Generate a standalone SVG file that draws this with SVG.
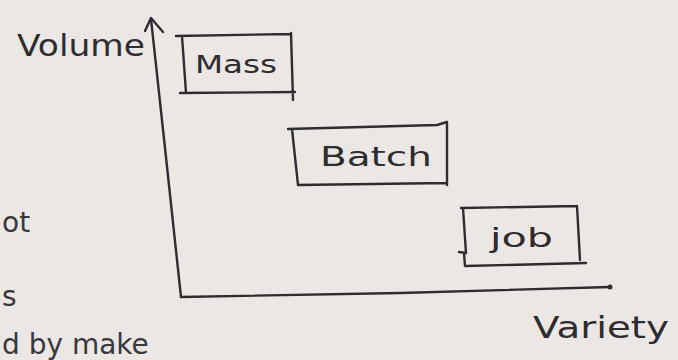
<svg xmlns="http://www.w3.org/2000/svg" width="678" height="360" viewBox="0 0 678 360">
<style>
.ink{fill:none;stroke:#2e2c2e;stroke-width:2.4;stroke-linecap:round;stroke-linejoin:round}
.t{font-family:"DejaVu Sans","Liberation Sans",sans-serif;fill:#2e2c2e}
.edge{font-family:"DejaVu Sans","Liberation Sans",sans-serif;fill:#3a383a;font-size:28px}
</style>
<rect width="678" height="360" fill="#ebe7e5"/>
<g id="connectors">
<path class="ink" d="M151,19 L165,148 L181,297"/>
<path class="ink" d="M145,31 L151,18 L163,32"/>
<path class="ink" d="M181,297 L400,293 L610,287"/>
<circle cx="610" cy="287" r="2.5" fill="#2e2c2e"/>
</g>
<g id="axis-labels">
<text class="t" x="17" y="56" font-size="30" textLength="128" lengthAdjust="spacingAndGlyphs">Volume</text>
<text class="t" x="533" y="338" font-size="30" textLength="136" lengthAdjust="spacingAndGlyphs">Variety</text>
</g>
<g id="mass">
<path class="ink" d="M176,36 L290,34 M182,36 L186,93 M180,93 L295,92 M291,33 L293,100"/>
<text class="t" x="195" y="73" font-size="25" textLength="82" lengthAdjust="spacingAndGlyphs">Mass</text>
</g>
<g id="batch">
<path class="ink" d="M288,129 L437,125 L447,122 M292,129 L298,185 L446,183 M447,122 L447,185"/>
<text class="t" x="320" y="166" font-size="26" textLength="112" lengthAdjust="spacingAndGlyphs">Batch</text>
</g>
<g id="job">
<path class="ink" d="M461,208 L577,206 M463,208 L466,253 L459,252 M464,253 L465,266 L586,263 M577,206 L580,260"/>
<text class="t" x="490" y="247" font-size="26" textLength="63" lengthAdjust="spacingAndGlyphs">job</text>
</g>
<g id="page-fragments">
<text class="edge" x="2" y="232">ot</text>
<text class="edge" x="2" y="306">s</text>
<text class="edge" x="2" y="354" font-size="24">d by make</text>
</g>
</svg>
